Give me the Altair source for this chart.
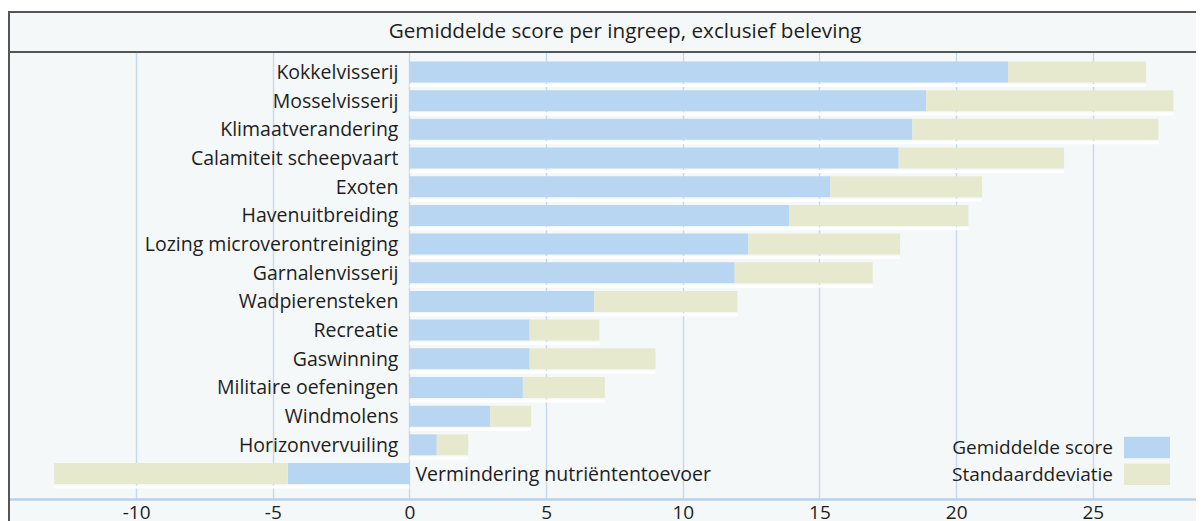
import altair as alt
import pandas as pd

# ---- data ----
categories = [
    "Kokkelvisserij", "Mosselvisserij", "Klimaatverandering", "Calamiteit scheepvaart",
    "Exoten", "Havenuitbreiding", "Lozing microverontreiniging", "Garnalenvisserij",
    "Wadpierensteken", "Recreatie", "Gaswinning", "Militaire oefeningen",
    "Windmolens", "Horizonvervuiling", "Vermindering nutriëntentoevoer",
]
gemiddelde = [21.9, 18.9, 18.4, 17.9, 15.4, 13.9, 12.4, 11.9, 6.75, 4.4, 4.4, 4.15, 2.95, 1.0, -4.45]
standaarddeviatie = [5.05, 9.05, 9.0, 6.05, 5.55, 6.55, 5.55, 5.05, 5.25, 2.55, 4.6, 3.0, 1.5, 1.15, 8.55]
reeksen = ["Gemiddelde score", "Standaarddeviatie"]
kleuren = ["#b8d5f1", "#e7e9cf"]
x_ticks = [-10, -5, 0, 5, 10, 15, 20, 25]
titel = "Gemiddelde score per ingreep, exclusief beleving"

# ---- layout / style ----
W, H = 1187, 447
X_DOMAIN = [-14.65, 28.775]
Y_DOMAIN = [-0.697, 14.889]
HALF = 0.366
BG = "#f5f8f8"
FRAME = "#555555"
FONT = "Open Sans"
FS = 19
FS_LAB = 19.5
FS_TITLE = 20.7
TXT = "#1e1e1e"

rows, strips, labels = [], [], []
for i, (c, m, s) in enumerate(zip(categories, gemiddelde, standaarddeviatie)):
    sign = 1 if m >= 0 else -1
    rows.append(dict(ingreep=c, idx=i, reeks=reeksen[0], start=0.0, end=m))
    rows.append(dict(ingreep=c, idx=i, reeks=reeksen[1], start=m, end=m + sign * s))
    strips.append(dict(idx=i, start=0.0, end=m + sign * s))
    labels.append(dict(ingreep=c, idx=i, gem=m, nul=0.0))
df = pd.DataFrame(rows)
df_strip = pd.DataFrame(strips)
df_lab = pd.DataFrame(labels)

xscale = alt.Scale(domain=X_DOMAIN, nice=False, zero=False)
yscale = alt.Scale(domain=Y_DOMAIN, nice=False, zero=False, reverse=True)

one = alt.Data(values=[{"k": 1}])

# decorations: white strip above frame, frame lines, title bar text
top_white = alt.Chart(one).mark_rect(fill="#ffffff", stroke=None).encode(
    x=alt.value(-2), x2=alt.value(W + 2), y=alt.value(-45), y2=alt.value(-41)
)
top_line = alt.Chart(one).mark_rule(color=FRAME, strokeWidth=2).encode(
    x=alt.value(-1), x2=alt.value(W + 2), y=alt.value(-40)
)
divider = alt.Chart(one).mark_rule(color=FRAME, strokeWidth=2).encode(
    x=alt.value(-1), x2=alt.value(W + 2), y=alt.value(0)
)
left_line = alt.Chart(one).mark_rule(color=FRAME, strokeWidth=2).encode(
    x=alt.value(0), y=alt.value(-41), y2=alt.value(H + 40)
)
title_text = alt.Chart(pd.DataFrame({"t": [titel]})).mark_text(
    align="center", baseline="middle", font=FONT, fontSize=FS_TITLE, color=TXT
).encode(x=alt.value(616), y=alt.value(-20), text="t:N")

xaxis = alt.Axis(
    values=x_ticks, title=None, grid=True, gridColor="#c3d9f1", gridWidth=1.4,
    domainColor="#b6d1ee", domainWidth=2.5, ticks=False,
    labelFont=FONT, labelFontSize=FS, labelColor=TXT, labelPadding=4,
    labelExpr="datum.value + ''",
)

strip_layer = alt.Chart(df_strip).mark_rect(color="#ffffff").transform_calculate(
    y0=f"datum.idx + {HALF} + 0.05", y1=f"datum.idx + {HALF} + 0.155"
).encode(
    x=alt.X("start:Q", scale=xscale, axis=xaxis),
    x2="end:Q",
    y=alt.Y("y0:Q", scale=yscale, axis=None),
    y2="y1:Q",
)

bars = alt.Chart(df).mark_rect().transform_calculate(
    y0=f"datum.idx - {HALF}", y1=f"datum.idx + {HALF}"
).encode(
    x=alt.X("start:Q", scale=xscale, axis=xaxis),
    x2="end:Q",
    y=alt.Y("y0:Q", scale=yscale, axis=None),
    y2="y1:Q",
    color=alt.Color("reeks:N", scale=alt.Scale(domain=reeksen, range=kleuren), legend=None),
)

pos_labels = alt.Chart(df_lab).transform_filter("datum.gem >= 0").mark_text(
    align="right", baseline="middle", dx=-11, dy=1, font=FONT, fontSize=FS_LAB, color=TXT
).encode(
    x=alt.X("nul:Q", scale=xscale),
    y=alt.Y("idx:Q", scale=yscale),
    text="ingreep:N",
)
neg_labels = alt.Chart(df_lab).transform_filter("datum.gem < 0").mark_text(
    align="left", baseline="middle", dx=6, dy=1, font=FONT, fontSize=FS_LAB, color=TXT
).encode(
    x=alt.X("nul:Q", scale=xscale),
    y=alt.Y("idx:Q", scale=yscale),
    text="ingreep:N",
)

# manual legend (bottom right, labels left of swatches)
legend_layers = []
for k, (naam, kleur) in enumerate(zip(reeksen, kleuren)):
    top = 384.7 + k * 26.7
    legend_layers.append(
        alt.Chart(one).mark_rect(fill=kleur).encode(
            x=alt.value(1115), x2=alt.value(1161), y=alt.value(top), y2=alt.value(top + 21.6)
        )
    )
    legend_layers.append(
        alt.Chart(pd.DataFrame({"t": [naam]})).mark_text(
            align="right", baseline="middle", font=FONT, fontSize=FS, color=TXT
        ).encode(x=alt.value(1104), y=alt.value(top + 11.5), text="t:N")
    )

chart = alt.layer(
    strip_layer, bars, pos_labels, neg_labels, *legend_layers,
    top_white, top_line, divider, left_line, title_text,
).properties(
    width=W, height=H,
    autosize=alt.AutoSizeParams(type="none"),
    padding={"left": 1, "top": 44, "right": 0, "bottom": 22},
).configure_view(stroke=None).configure(background=BG)

chart.save("out.html", embed_options={"renderer": "svg", "actions": False})
